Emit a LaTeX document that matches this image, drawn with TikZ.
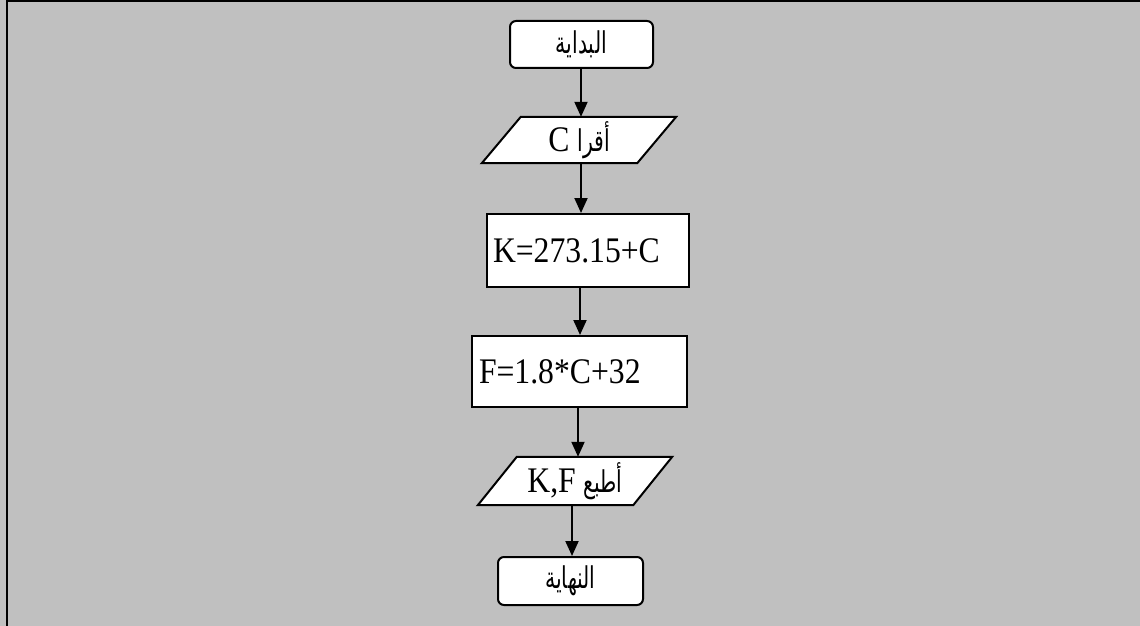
\documentclass[tikz,border=0pt]{standalone}
\usepackage{fontspec}
\setmainfont{Liberation Serif}
\newfontfamily\latinfont[FakeStretch=0.88]{Liberation Serif}
\newfontfamily\arabicfont[Script=Arabic,FakeStretch=0.68]{DejaVu Sans}
\TeXXeTstate=1
\usetikzlibrary{arrows.meta,backgrounds,calc}

\tikzset{
  shapeline/.style={draw=black, line width=2pt, fill=white},
  termbox/.style={shapeline, rounded corners=6pt, inner sep=0pt,
    font=\fontsize{30pt}{34pt}\arabicfont},
  procbox/.style={shapeline, inner ysep=0pt,
    font=\fontsize{36pt}{40pt}\latinfont},
  iobody/.style={draw=none, inner sep=0pt,
    font=\fontsize{36pt}{40pt}\latinfont},
  flow/.style={draw=black, line width=2pt,
    -{Triangle[length=15pt,width=13pt]}},
}

\begin{document}
\begin{tikzpicture}[x=1pt,y=-1pt]
  % canvas and frame
  \useasboundingbox (0,0) rectangle (1140,626);

  % flowchart steps
  \node[termbox, minimum width=143pt, minimum height=47pt] (start) at (581.5,44.5)
    {\arabicfont\beginR البداية\endR};
  \node[iobody, minimum width=155pt, minimum height=46pt] (read) at (579,140)
    {\beginR{\fontsize{30pt}{34pt}\arabicfont أقرا} C\endR};
  \node[procbox, minimum height=73pt, inner xsep=6pt, text width=190pt, align=left] (conv) at (588,250.5)
    {K=273.15+C};
  \node[procbox, minimum height=71pt, inner xsep=7pt, text width=201pt, align=left] (fahr) at (579.5,371.5)
    {F=1.8*C+32};
  \node[iobody, minimum width=155pt, minimum height=48pt] (print) at (575,481)
    {\beginR{\fontsize{30pt}{34pt}\arabicfont أطبع} \beginL K,F\endL\endR};
  \node[termbox, minimum width=145pt, minimum height=48pt] (stop) at (570.5,581)
    {\arabicfont\beginR النهاية\endR};

  % background: grey sheet, frame and the input/output parallelograms
  \begin{scope}[on background layer]
    \fill[fill={rgb,255:red,192;green,192;blue,192}] (0,0) rectangle (1140,626);
    \draw[line width=2.5pt] (7,626) -- (7,1) -- (1140,1);
    \foreach \p/\s in {read/19.5, print/19.5}{
      \draw[shapeline, line join=miter]
        ([xshift=\s pt]\p.north west) -- ([xshift=\s pt]\p.north east)
        -- ([xshift=-\s pt]\p.south east) -- ([xshift=-\s pt]\p.south west) -- cycle;
    }
  \end{scope}

  % connectors
  \draw[flow] ([xshift=-0.5pt]start.south) -- ([xshift=-0.5pt]start.south |- read.north);
  \draw[flow] ([xshift=2pt]read.south) -- ([xshift=2pt]read.south |- conv.north);
  \draw[flow] ([xshift=-8pt]conv.south) -- ([xshift=-8pt]conv.south |- fahr.north);
  \draw[flow] ([xshift=-1.5pt]fahr.south) -- ([xshift=-1.5pt]fahr.south |- print.north);
  \draw[flow] ([xshift=-3pt]print.south) -- ([xshift=-3pt]print.south |- stop.north);
\end{tikzpicture}
\end{document}
